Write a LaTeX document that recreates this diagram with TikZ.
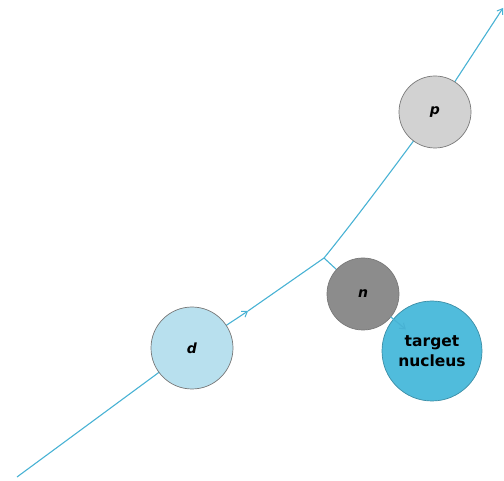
\documentclass[tikz,border=0pt]{standalone}
\usepackage{fontspec}
\setmainfont{DejaVu Sans}
\usetikzlibrary{arrows.meta,calc,backgrounds}
\definecolor{beam}{RGB}{72,178,212}
\definecolor{dfill}{RGB}{184,224,238}
\definecolor{pfill}{RGB}{210,210,210}
\definecolor{nfill}{RGB}{140,140,140}
\definecolor{tfill}{RGB}{80,188,220}
\definecolor{edge}{RGB}{120,120,120}
\tikzset{
  particle/.style={circle, draw=edge, line width=0.7pt, inner sep=0pt, font=\bfseries\itshape\fontsize{14}{14}\selectfont},
  beamline/.style={draw=beam, line width=1.1pt},
  tip/.style={-{Straight Barb[length=5pt,width=7pt,line width=1pt]}}
}
\begin{document}
\begin{tikzpicture}[x=1pt,y=-1pt]
\useasboundingbox (0,0) rectangle (504,481);
\node[particle, fill=dfill, minimum size=82pt] (d) at (192,348) {d};
\node[particle, fill=pfill, minimum size=72pt] (p) at (435,112) {p};
\node[particle, fill=nfill, minimum size=72pt] (n) at (363,294) {n};
\node[particle, fill=tfill, draw=tfill!75!black, minimum size=100pt, align=center,
      font=\bfseries\fontsize{15.5}{20}\selectfont] (t) at (432,351) {target\\nucleus};
\coordinate (S) at (17,477);
\coordinate (M) at (248,311);
\coordinate (B) at (324,258);
\coordinate (E) at (503,8);
\begin{scope}[on background layer]
  \draw[beamline] (S) -- (d.center);
  \draw[beamline, tip] (d.center) -- (M);
  \draw[beamline] (M) -- (B);
  \draw[beamline, tip] (B) .. controls (355,220) and (398,162) .. (p.center) -- (E);
  \draw[beamline] (B) -- (n.center);
\end{scope}
\draw[beamline, tip] ($(n)!0.4!(t)$) -- ($(n)!0.62!(t)$);
\end{tikzpicture}
\end{document}
